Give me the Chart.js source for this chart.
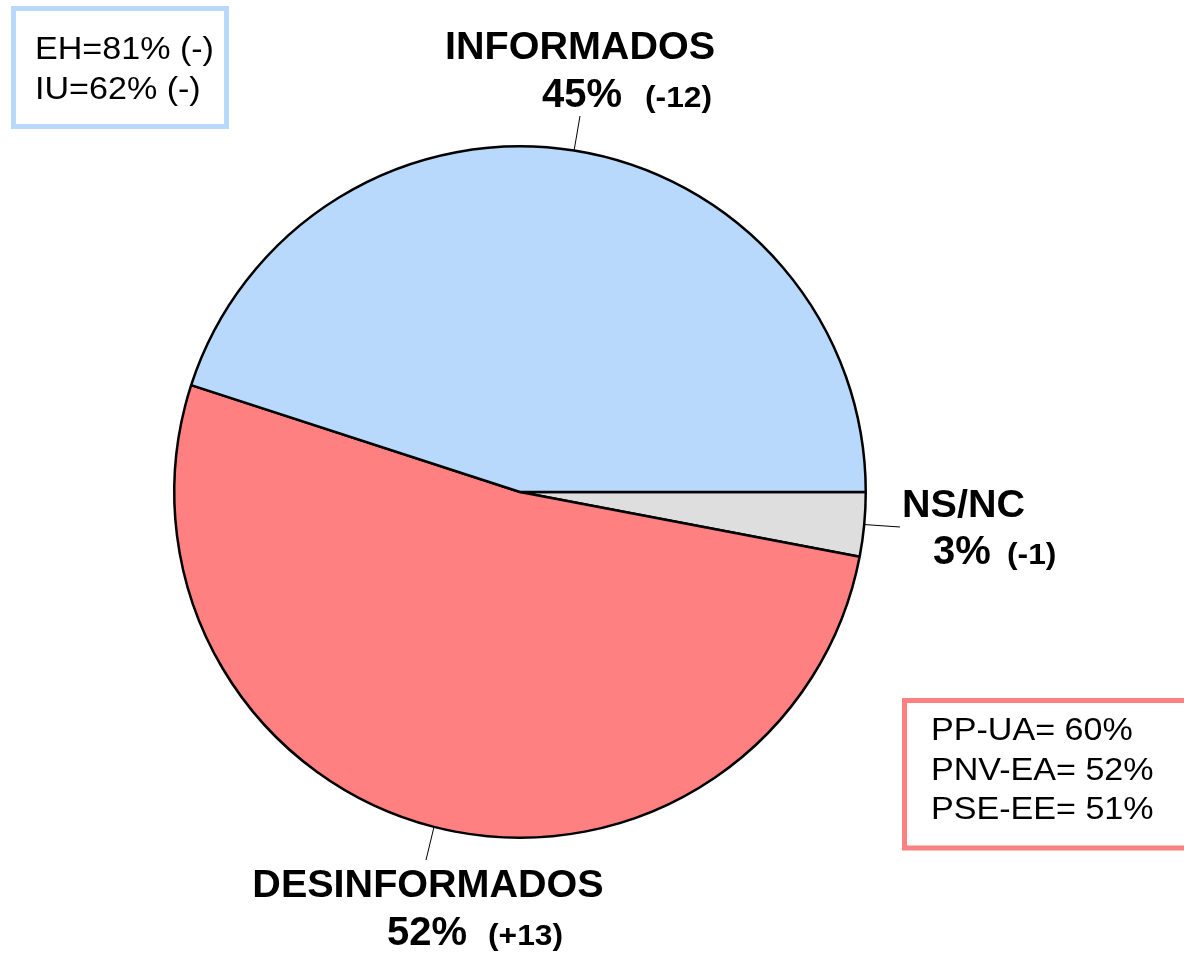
<!DOCTYPE html>
<html>
<head>
<meta charset="utf-8">
<script src="https://cdn.jsdelivr.net/npm/chart.js@4/dist/chart.umd.min.js"></script>
<style>
html,body{margin:0;padding:0;background:#fff;}
#wrap{width:1184px;height:955px;position:relative;}
</style>
</head>
<body>
<div id="wrap"><canvas id="c" width="1184" height="955"></canvas></div>
<script>
// Data (clockwise from 3 o'clock)
const categories = ['NS/NC', 'DESINFORMADOS', 'INFORMADOS'];
const values = [3, 52, 45];
const changes = ['(-1)', '(+13)', '(-12)'];
const notesInformados = ['EH=81% (-)', 'IU=62% (-)'];
const notesDesinformados = ['PP-UA= 60%', 'PNV-EA= 52%', 'PSE-EE= 51%'];

const sliceColors = ['#dedede', '#ff8080', '#b8d8fc'];
const FONT = '"Liberation Sans", Arial, sans-serif';

// label layout per slice (same order as categories)
const labelLayout = [
  { lineEnd: [900, 527], name: [902, 517, 'left'], pct: [933, 564], chg: [1007, 564] },
  { lineEnd: [426, 860], name: [428, 897, 'center'], pct: [387, 945], chg: [488, 945] },
  { lineEnd: [580, 116], name: [580, 59, 'center'], pct: [542, 107], chg: [645, 107] }
];

function drawText(ctx, text, x, y, sx, align) {
  ctx.save();
  ctx.translate(x, y);
  ctx.scale(sx, 1);
  ctx.textAlign = align || 'left';
  ctx.fillText(text, 0, 0);
  ctx.restore();
}

const labelPlugin = {
  id: 'sliceLabels',
  afterDraw(chart) {
    const ctx = chart.ctx;
    const meta = chart.getDatasetMeta(0);
    ctx.save();
    meta.data.forEach((arc, i) => {
      const p = arc.getProps(['x', 'y', 'startAngle', 'endAngle', 'outerRadius'], true);
      const mid = (p.startAngle + p.endAngle) / 2;
      const sx = p.x + Math.cos(mid) * p.outerRadius;
      const sy = p.y + Math.sin(mid) * p.outerRadius;
      const L = labelLayout[i];
      ctx.strokeStyle = '#000';
      ctx.lineWidth = 1;
      ctx.beginPath();
      ctx.moveTo(sx, sy);
      ctx.lineTo(L.lineEnd[0], L.lineEnd[1]);
      ctx.stroke();
      ctx.fillStyle = '#000';
      ctx.textBaseline = 'alphabetic';
      ctx.font = 'bold 38px ' + FONT;
      drawText(ctx, categories[i], L.name[0], L.name[1], 1.04, L.name[2]);
      ctx.font = 'bold 40px ' + FONT;
      drawText(ctx, values[i] + '%', L.pct[0], L.pct[1], 1.0, 'left');
      ctx.font = 'bold 30px ' + FONT;
      drawText(ctx, changes[i], L.chg[0], L.chg[1], 1.06, 'left');
    });

    // note boxes
    ctx.lineWidth = 5;
    ctx.strokeStyle = sliceColors[2];
    ctx.strokeRect(13.5, 8.5, 213, 118);
    ctx.strokeStyle = sliceColors[1];
    ctx.strokeRect(904.5, 700.5, 290, 147.5);
    ctx.fillStyle = '#000';
    ctx.font = '32px ' + FONT;
    notesInformados.forEach((t, k) => drawText(ctx, t, 35, 59 + k * 40, 1.065, 'left'));
    notesDesinformados.forEach((t, k) => drawText(ctx, t, 931, 740 + k * 39.5, 1.065, 'left'));
    ctx.restore();
  }
};

new Chart(document.getElementById('c'), {
  type: 'pie',
  data: {
    labels: categories,
    datasets: [{
      data: values,
      backgroundColor: sliceColors,
      borderColor: '#000',
      borderWidth: 2.5,
      borderAlign: 'center'
    }]
  },
  options: {
    responsive: false,
    animation: false,
    rotation: 90,
    layout: { padding: { left: 173, top: 145, right: 317, bottom: 116 } },
    plugins: { legend: { display: false }, tooltip: { enabled: false } }
  },
  plugins: [labelPlugin]
});
</script>
</body>
</html>
